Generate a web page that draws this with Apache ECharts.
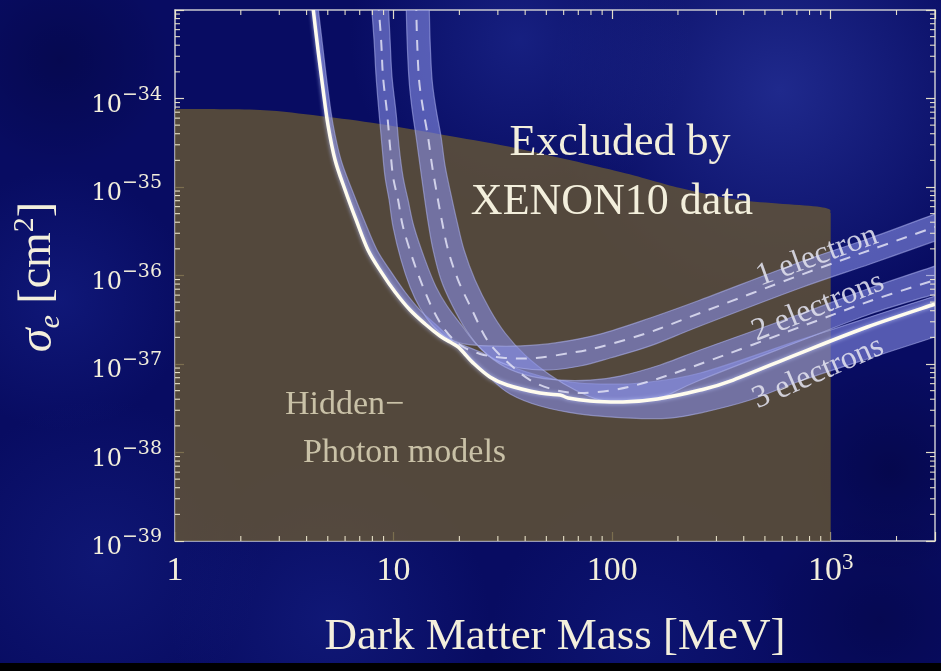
<!DOCTYPE html>
<html>
<head>
<meta charset="utf-8">
<title>XENON10 electron-scattering limits</title>
<script src="https://cdn.jsdelivr.net/npm/echarts@6/dist/echarts.min.js"></script>
<style>
  html, body { margin: 0; padding: 0; background: #080c62; }
  #chart { width: 941px; height: 671px; }
</style>
</head>
<body>
<div id="chart"></div>
<script>
// Dark matter – electron scattering cross section vs. dark matter mass.
// Masses in MeV, cross sections in cm^2.

// Cross sections are plotted in units of 1e-39 cm^2 so the log axis works on modest numbers.
const SIGMA_UNIT = 1e-39;

const massRange = [1, 3000];
const sigmaRange = [1e-39, 1e-33];

// Axis ticks and their labels ([base, exponent])
const xTickValues = [1, 10, 100, 1000];
const xTickText = [['1', ''], ['10', ''], ['100', ''], ['10', '3']];
const yTickValues = [1e-39, 1e-38, 1e-37, 1e-36, 1e-35, 1e-34];
const yTickText = [['10', '−39'], ['10', '−38'], ['10', '−37'], ['10', '−36'], ['10', '−35'], ['10', '−34']];

// Upper boundary of the hidden-photon model region (extends down to the bottom of the frame)
const hiddenPhotonEdge = [[1, 7.6e-35], [2.45, 7.41e-35], [4.61, 6.34e-35], [8.67, 5.15e-35], [18.1, 3.77e-35],
  [37.9, 2.69e-35], [109, 1.48e-35], [205, 9.75e-36], [385, 7.13e-36], [895, 5.94e-36], [1000, 5.1e-36]];

// Combined XENON10 limit
const combinedLimit = [[4.24, 1.3e-33], [4.51, 3.53e-34], [4.76, 1.25e-34], [5.01, 5.02e-35], [5.40, 2.02e-35],
  [6.00, 9.25e-36], [6.74, 4.24e-36], [7.64, 1.94e-36], [8.77, 1.10e-36], [10.16, 6.51e-37], [11.90, 4.07e-37],
  [13.94, 2.83e-37], [16.32, 2.07e-37], [18.14, 1.77e-37], [19.73, 1.56e-37], [21.0, 1.33e-37], [23.1, 1.03e-37],
  [27.6, 7.13e-38], [33.1, 5.79e-38], [46.8, 4.70e-38], [57.8, 4.47e-38], [62.9, 4.13e-38], [79.3, 3.82e-38],
  [112, 3.72e-38], [161, 4.03e-38], [253, 5.08e-38], [358, 6.59e-38], [725, 1.33e-37], [1469, 2.62e-37], [3000, 4.76e-37]];

// One-electron limit: central curve and band edges
const electron1Center = [[8.49, 1.3e-33], [8.77, 4.58e-34], [8.95, 1.75e-34], [9.34, 6.86e-35], [9.64, 2.83e-35],
  [9.95, 1.30e-35], [10.49, 7.13e-36], [11.05, 3.53e-36], [12.28, 1.50e-36], [13.65, 7.41e-37], [15.17, 4.07e-37],
  [17.21, 2.42e-37], [20.15, 1.64e-37], [24.89, 1.30e-37], [32.38, 1.17e-37], [44.43, 1.17e-37], [64.23, 1.33e-37],
  [88.13, 1.56e-37], [149.3, 2.30e-37], [252.8, 3.77e-37], [725.2, 1.01e-36], [1516, 1.94e-36], [3000, 3.53e-36]];
const electron1Upper = [[7.89, 1.3e-33], [8.14, 4.58e-34], [8.32, 1.75e-34], [8.58, 6.86e-35], [8.86, 2.83e-35],
  [9.14, 1.30e-35], [9.54, 7.13e-36], [9.95, 3.53e-36], [10.82, 1.50e-36], [11.90, 7.41e-37], [13.22, 4.29e-37],
  [15.01, 2.76e-37], [17.58, 1.97e-37], [21.24, 1.68e-37], [27.65, 1.60e-37], [37.93, 1.60e-37], [54.85, 1.73e-37],
  [88.13, 2.18e-37], [149.3, 3.31e-37], [252.8, 5.28e-37], [725.2, 1.42e-36], [1516, 2.65e-36], [3000, 4.95e-36]];
const electron1Lower = [[9.44, 1.3e-33], [9.64, 4.58e-34], [9.84, 1.75e-34], [10.27, 6.86e-35], [10.60, 2.83e-35],
  [11.05, 1.30e-35], [11.65, 7.13e-36], [12.41, 3.53e-36], [13.94, 1.50e-36], [15.65, 7.41e-37], [17.58, 4.52e-37],
  [20.58, 2.69e-37], [24.11, 1.64e-37], [29.15, 1.11e-37], [37.93, 9.01e-38], [52.03, 8.55e-38], [71.38, 9.49e-38],
  [97.91, 1.17e-37], [149.3, 1.60e-37], [252.8, 2.69e-37], [725.2, 7.23e-37], [1516, 1.35e-36], [3000, 2.45e-36]];

// Two-electron limit
const electron2Center = [[12.68, 1.3e-33], [12.81, 4.58e-34], [13.08, 1.62e-34], [13.65, 7.60e-35], [14.38, 3.67e-35],
  [15.01, 1.73e-35], [15.82, 8.13e-36], [16.67, 4.03e-36], [17.76, 1.94e-36], [19.73, 8.89e-37], [22.87, 4.07e-37],
  [26.79, 1.87e-37], [32.38, 1.11e-37], [42.14, 6.59e-38], [54.85, 5.08e-38], [71.38, 4.70e-38], [101.1, 5.08e-38],
  [144.6, 6.26e-38], [252.8, 1.00e-37], [725.2, 2.62e-37], [1516, 5.15e-37], [3000, 8.89e-37]];
const electron2Upper = [[11.41, 1.3e-33], [11.53, 4.58e-34], [11.77, 1.62e-34], [12.15, 7.60e-35], [12.68, 3.67e-35],
  [13.22, 1.73e-35], [13.79, 8.13e-36], [14.38, 4.03e-36], [15.17, 1.94e-36], [16.50, 8.89e-37], [18.52, 4.64e-37],
  [21.47, 2.42e-37], [25.41, 1.44e-37], [32.38, 9.25e-38], [42.14, 7.31e-38], [57.81, 6.59e-38], [79.32, 6.59e-38],
  [108.8, 7.31e-38], [165.8, 9.75e-38], [252.8, 1.44e-37], [725.2, 3.67e-37], [1516, 7.23e-37], [3000, 1.28e-36]];
const electron2Lower = [[14.54, 1.3e-33], [14.69, 4.58e-34], [15.01, 1.62e-34], [15.65, 7.60e-35], [16.50, 3.67e-35],
  [17.21, 1.73e-35], [18.33, 8.13e-36], [19.53, 4.03e-36], [21.02, 1.94e-36], [23.60, 8.89e-37], [27.65, 4.07e-37],
  [32.38, 2.24e-37], [39.98, 1.26e-37], [52.03, 7.51e-38], [67.70, 5.08e-38], [88.13, 3.92e-38], [120.9, 3.72e-38],
  [165.8, 4.13e-38], [252.8, 6.59e-38], [725.2, 1.82e-37], [1516, 3.67e-37], [3000, 6.18e-37]];

// Three-electron limit band
const electron3Upper = [[4.24, 1.3e-33], [4.51, 3.53e-34], [4.76, 1.25e-34], [5.01, 5.02e-35], [5.40, 2.02e-35],
  [6.00, 9.25e-36], [6.74, 4.24e-36], [7.64, 1.94e-36], [8.77, 1.10e-36], [10.16, 6.51e-37], [11.90, 4.07e-37],
  [13.94, 2.83e-37], [16.32, 2.07e-37], [19.12, 1.77e-37], [24.89, 1.37e-37], [34.14, 9.49e-38], [46.83, 7.31e-38],
  [64.23, 6.26e-38], [88.13, 5.94e-38], [134.4, 6.10e-38], [252.8, 7.91e-38], [725.2, 1.87e-37], [1516, 3.40e-37],
  [3000, 5.86e-37]];
const electron3Lower = [[4.47, 1.3e-33], [4.76, 3.53e-34], [5.01, 1.25e-34], [5.29, 5.02e-35], [5.75, 2.02e-35],
  [6.46, 9.25e-36], [7.33, 4.24e-36], [8.40, 1.94e-36], [9.74, 1.10e-36], [11.29, 6.51e-37], [13.22, 4.07e-37],
  [15.49, 2.83e-37], [17.95, 2.02e-37], [22.39, 1.17e-37], [27.65, 6.95e-38], [34.14, 4.58e-38], [46.83, 3.35e-38],
  [71.38, 2.72e-38], [120.9, 2.45e-38], [184.2, 2.45e-38], [252.8, 2.79e-38], [428.1, 3.92e-38], [725.2, 6.43e-38],
  [1516, 1.17e-37], [3000, 2.02e-37]];

// ---------------------------------------------------------------------------

const SERIF = "'Liberation Serif', 'DejaVu Serif', serif";
const WIDE_SERIF = "'DejaVu Serif', serif";
const TEXT = '#f3efdc';
const FRAME = '#c8c8d0';
const TICK = 'rgba(238,232,205,0.95)';
const BAND_FILL = 'rgba(135,142,228,0.6)';
const BAND_EDGE = 'rgba(175,180,240,0.55)';

const toPlot = p => [p[0], p[1] / SIGMA_UNIT];

// Cubic Catmull-Rom segments through pixel points (without the initial move)
function curveSegments(pts) {
  let d = '';
  for (let i = 0; i < pts.length - 1; i++) {
    const p0 = pts[i - 1] || pts[i], p1 = pts[i], p2 = pts[i + 1], p3 = pts[i + 2] || p2;
    const c1x = p1[0] + (p2[0] - p0[0]) / 6, c1y = p1[1] + (p2[1] - p0[1]) / 6;
    const c2x = p2[0] - (p3[0] - p1[0]) / 6, c2y = p2[1] - (p3[1] - p1[1]) / 6;
    d += ' C' + c1x + ' ' + c1y + ' ' + c2x + ' ' + c2y + ' ' + p2[0] + ' ' + p2[1];
  }
  return d;
}

function bandSeries(name, upper, lower, z) {
  return {
    name, type: 'custom', coordinateSystem: 'cartesian2d', clip: true, silent: true, z,
    data: [[10, 10]],
    renderItem: (params, api) => {
      const up = upper.map(p => api.coord(toPlot(p)));
      const lo = lower.map(p => api.coord(toPlot(p))).reverse();
      const d = 'M' + up[0][0] + ' ' + up[0][1] + curveSegments(up) +
        ' L' + lo[0][0] + ' ' + lo[0][1] + curveSegments(lo) + ' Z';
      return { type: 'path', shape: { pathData: d }, style: { fill: BAND_FILL, stroke: BAND_EDGE, lineWidth: 1.2 } };
    }
  };
}

function curveSeries(name, pts, style, z) {
  return {
    name, type: 'custom', coordinateSystem: 'cartesian2d', clip: true, silent: true, z,
    data: [[10, 10]],
    renderItem: (params, api) => {
      const px = pts.map(p => api.coord(toPlot(p)));
      const d = 'M' + px[0][0] + ' ' + px[0][1] + curveSegments(px);
      return { type: 'path', shape: { pathData: d }, style: Object.assign({ fill: 'none' }, style) };
    }
  };
}

const hiddenPhotonSeries = {
  name: 'Hidden-photon models', type: 'custom', coordinateSystem: 'cartesian2d', clip: true, silent: true, z: 1,
  data: [[10, 10]],
  renderItem: (params, api) => {
    const top = hiddenPhotonEdge.map(p => api.coord(toPlot(p)));
    const last = hiddenPhotonEdge[hiddenPhotonEdge.length - 1];
    const br = api.coord(toPlot([last[0], sigmaRange[0]]));
    const bl = api.coord(toPlot([hiddenPhotonEdge[0][0], sigmaRange[0]]));
    const d = 'M' + top[0][0] + ' ' + top[0][1] + curveSegments(top) +
      ' L' + br[0] + ' ' + br[1] + ' L' + bl[0] + ' ' + bl[1] + ' Z';
    return { type: 'path', shape: { pathData: d }, style: { fill: 'rgba(100,86,52,0.82)' } };
  }
};

// Minor (2..9) log ticks drawn on all four sides of the frame
const xMinor = [];
xTickValues.forEach(v => { for (let k = 2; k <= 9; k++) { if (v * k < massRange[1]) xMinor.push(v * k); } });
const yMinor = [];
yTickValues.concat([sigmaRange[1]]).forEach(v => { for (let k = 2; k <= 9; k++) { if (v * k < sigmaRange[1]) yMinor.push(v * k); } });

const minorTickSeries = {
  name: 'minor ticks', type: 'custom', coordinateSystem: 'cartesian2d', silent: true, z: 6,
  data: [[10, 10]],
  renderItem: (params, api) => {
    const children = [];
    const L = 5;
    const st = { stroke: TICK, lineWidth: 1.1 };
    xMinor.forEach(m => {
      const b = api.coord(toPlot([m, sigmaRange[0]]));
      const t = api.coord(toPlot([m, sigmaRange[1]]));
      children.push({ type: 'line', shape: { x1: b[0], y1: b[1], x2: b[0], y2: b[1] - L }, style: st });
      children.push({ type: 'line', shape: { x1: t[0], y1: t[1], x2: t[0], y2: t[1] + L }, style: st });
    });
    yMinor.forEach(s => {
      const l = api.coord(toPlot([massRange[0], s]));
      const r = api.coord(toPlot([massRange[1], s]));
      children.push({ type: 'line', shape: { x1: l[0], y1: l[1], x2: l[0] + L, y2: l[1] }, style: st });
      children.push({ type: 'line', shape: { x1: r[0], y1: r[1], x2: r[0] - L, y2: r[1] }, style: st });
    });
    return { type: 'group', children };
  }
};

function tickRich(family, base, sup, supLH) {
  return {
    b: { fontFamily: family, fontSize: base, color: TEXT, lineHeight: 40 },
    s: { fontFamily: family, fontSize: sup, color: TEXT, lineHeight: supLH, verticalAlign: 'top' }
  };
}

function findTick(values, texts, v) {
  for (let i = 0; i < values.length; i++) {
    if (Math.abs(Math.log10(values[i]) - Math.log10(v)) < 1e-6) {
      const t = texts[i];
      return t[1] ? '{b|' + t[0] + '}{s|' + t[1] + '}' : '{b|' + t[0] + '}';
    }
  }
  return '';
}

const frameAxis = {
  axisLine: { show: true, lineStyle: { color: FRAME, width: 1.5 } },
  axisTick: { show: true, inside: true, length: 9, lineStyle: { color: TICK, width: 1.2 } },
  splitLine: { show: false }
};

const option = {
  backgroundColor: '#080c62',
  animation: false,
  grid: { left: 175, top: 10, right: 6, bottom: 130, containLabel: false },
  xAxis: [
    Object.assign({}, frameAxis, {
      type: 'log', logBase: 10, min: massRange[0], max: massRange[1], position: 'bottom',
      axisLabel: { margin: 10, formatter: v => findTick(xTickValues, xTickText, v), rich: tickRich(SERIF, 34, 23, 16) }
    }),
    Object.assign({}, frameAxis, {
      type: 'log', logBase: 10, min: massRange[0], max: massRange[1], position: 'top',
      axisLabel: { show: false }
    })
  ],
  yAxis: [
    Object.assign({}, frameAxis, {
      type: 'log', logBase: 10, min: sigmaRange[0] / SIGMA_UNIT, max: sigmaRange[1] / SIGMA_UNIT, position: 'left',
      axisLabel: {
        margin: 13, padding: [14, 0, 0, 0],
        formatter: v => findTick(yTickValues, yTickText, v * SIGMA_UNIT), rich: tickRich(WIDE_SERIF, 24, 19, 18)
      }
    }),
    Object.assign({}, frameAxis, {
      type: 'log', logBase: 10, min: sigmaRange[0] / SIGMA_UNIT, max: sigmaRange[1] / SIGMA_UNIT, position: 'right',
      axisLabel: { show: false }
    })
  ],
  series: [
    hiddenPhotonSeries,
    bandSeries('3 electrons', electron3Upper, electron3Lower, 2),
    bandSeries('2 electrons', electron2Upper, electron2Lower, 2),
    bandSeries('1 electron', electron1Upper, electron1Lower, 2),
    curveSeries('1 electron central', electron1Center, { stroke: 'rgba(222,222,242,0.88)', lineWidth: 2, lineDash: [11, 9] }, 3),
    curveSeries('2 electrons central', electron2Center, { stroke: 'rgba(222,222,242,0.88)', lineWidth: 2, lineDash: [11, 9] }, 3),
    curveSeries('XENON10 limit', combinedLimit, {
      stroke: '#fffcee', lineWidth: 3.5, shadowBlur: 4, shadowColor: 'rgba(190,200,255,0.8)'
    }, 4),
    minorTickSeries
  ],
  graphic: [
    // soft mottling of the backdrop
    ...[
      [780, 90, 230, 'rgba(50,65,175,0.55)'],
      [520, 40, 170, 'rgba(40,55,165,0.45)'],
      [60, 300, 130, 'rgba(30,45,160,0.35)'],
      [100, 560, 160, 'rgba(28,42,150,0.35)'],
      [330, 620, 160, 'rgba(30,45,155,0.35)'],
      [640, 640, 150, 'rgba(25,40,150,0.3)'],
      [890, 470, 110, 'rgba(0,0,40,0.35)'],
      [880, 620, 120, 'rgba(0,0,45,0.3)'],
      [60, 60, 110, 'rgba(0,0,40,0.3)']
    ].map(b => ({
      type: 'circle', z: -10, silent: true,
      shape: { cx: b[0], cy: b[1], r: b[2] },
      style: {
        fill: new echarts.graphic.RadialGradient(0.5, 0.5, 0.5, [
          { offset: 0, color: b[3] }, { offset: 1, color: b[3].replace(/[\d.]+\)$/, '0)') }
        ])
      }
    })),
    { type: 'rect', z: 50, silent: true, shape: { x: 0, y: 663, width: 941, height: 8 }, style: { fill: '#000' } },
    { type: 'text', z: 100, x: 620, y: 143, style: { text: 'Excluded by', fontFamily: SERIF, fontSize: 44, fill: TEXT, align: 'center', verticalAlign: 'middle' } },
    { type: 'text', z: 100, x: 612, y: 202, style: { text: 'XENON10 data', fontFamily: SERIF, fontSize: 44, fill: TEXT, align: 'center', verticalAlign: 'middle' } },
    { type: 'text', z: 100, x: 285, y: 405, style: { text: 'Hidden−', fontFamily: SERIF, fontSize: 34, fill: 'rgba(214,206,178,0.9)', align: 'left', verticalAlign: 'middle' } },
    { type: 'text', z: 100, x: 303, y: 453, style: { text: 'Photon models', fontFamily: SERIF, fontSize: 34, fill: 'rgba(214,206,178,0.9)', align: 'left', verticalAlign: 'middle' } },
    { type: 'text', z: 100, x: 817, y: 256, rotation: 20 * Math.PI / 180, style: { text: '1 electron', fontFamily: SERIF, fontSize: 32, fill: 'rgba(225,225,238,0.88)', align: 'center', verticalAlign: 'middle' } },
    { type: 'text', z: 100, x: 818, y: 307, rotation: 22 * Math.PI / 180, style: { text: '2 electrons', fontFamily: SERIF, fontSize: 32, fill: 'rgba(225,225,238,0.88)', align: 'center', verticalAlign: 'middle' } },
    { type: 'text', z: 100, x: 818, y: 373, rotation: 23.5 * Math.PI / 180, style: { text: '3 electrons', fontFamily: SERIF, fontSize: 32, fill: 'rgba(225,225,238,0.88)', align: 'center', verticalAlign: 'middle' } },
    { type: 'text', z: 100, x: 555, y: 637, style: { text: 'Dark Matter Mass [MeV]', fontFamily: SERIF, fontSize: 45, fill: TEXT, align: 'center', verticalAlign: 'middle' } },
    {
      type: 'text', z: 100, x: 38, y: 277, rotation: Math.PI / 2,
      style: {
        text: '{g|σ}{e|e}{n| [cm}{p|2}{n|]}', align: 'center', verticalAlign: 'middle', fill: TEXT,
        rich: {
          g: { fontFamily: SERIF, fontStyle: 'italic', fontSize: 48, fill: TEXT, lineHeight: 56 },
          e: { fontFamily: SERIF, fontStyle: 'italic', fontSize: 30, fill: TEXT, lineHeight: 40, verticalAlign: 'bottom' },
          n: { fontFamily: SERIF, fontSize: 46, fill: TEXT, lineHeight: 56 },
          p: { fontFamily: SERIF, fontSize: 30, fill: TEXT, lineHeight: 24, verticalAlign: 'top' }
        }
      }
    }
  ]
};

const chart = echarts.init(document.getElementById('chart'));
chart.setOption(option);
</script>
</body>
</html>
